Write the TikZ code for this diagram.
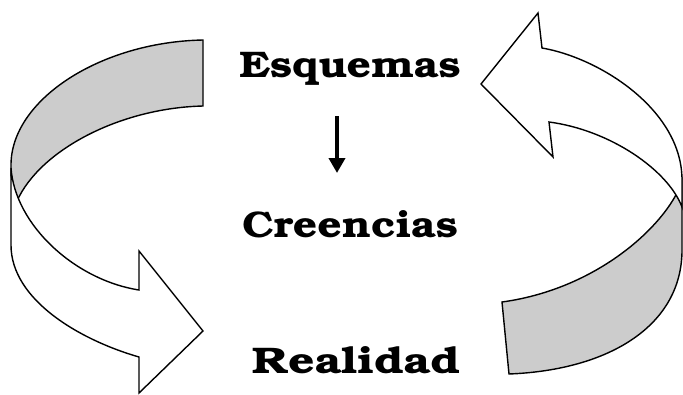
\documentclass[tikz,border=0pt]{standalone}
\usepackage[T1]{fontenc}
\usepackage{bookman}
\usetikzlibrary{arrows.meta}
\tikzset{cinta/.style={draw=black,line width=1.4pt,line join=miter},
	reverso/.style={cinta,fill=black!20},
	frente/.style={cinta,fill=white},
	palabra/.style={anchor=base,inner sep=0pt,font=\fontsize{37}{40}\selectfont\bfseries},
	flecha/.style={line width=3.7pt,-{Triangle[length=15pt,width=16pt]}}}
\newcommand{\ancha}[1]{\scalebox{1.15}[1]{#1}}

\begin{document}
\begin{tikzpicture}[x=1pt,y=-1pt]
	\useasboundingbox (0,0) rectangle (683,394);
	% cinta izquierda
	\draw[reverso] (203,40) .. controls (100,42) and (11,100) .. (11,165) -- (11,175) -- (17,201) .. controls (40,150) and (120,108) .. (203,106) -- cycle;
	\draw[frente] (11,168) .. controls (15,225) and (75,280) .. (139,290) -- (139,251) -- (203,331) -- (139,393) -- (139,357) .. controls (80,340) and (11,300) .. (11,245) -- cycle;
	% cinta derecha
	\draw[reverso] (682,180) -- (682,250) .. controls (682,325) and (610,370) .. (509,374) -- (502,302) .. controls (590,290) and (655,235) .. (677,193) -- cycle;
	\draw[frente] (549,122) .. controls (610,130) and (668,170) .. (682,207) -- (682,180) .. controls (682,110) and (600,58) .. (542,48) -- (538,13) -- (481,84) -- (553,157) -- cycle;
	% textos
	\node[palabra] (esq) at (350,77) {\ancha{Esquemas}};
	\node[palabra] (cre) at (350,237) {\ancha{Creencias}};
	\node[palabra] (rea) at (356,373) {\scalebox{1.25}[1]{Realidad}};
	\draw[flecha] ([xshift=-13pt,yshift=-39pt]esq.base) -- ([xshift=-13pt,yshift=64pt]cre.base);
\end{tikzpicture}
\end{document}
